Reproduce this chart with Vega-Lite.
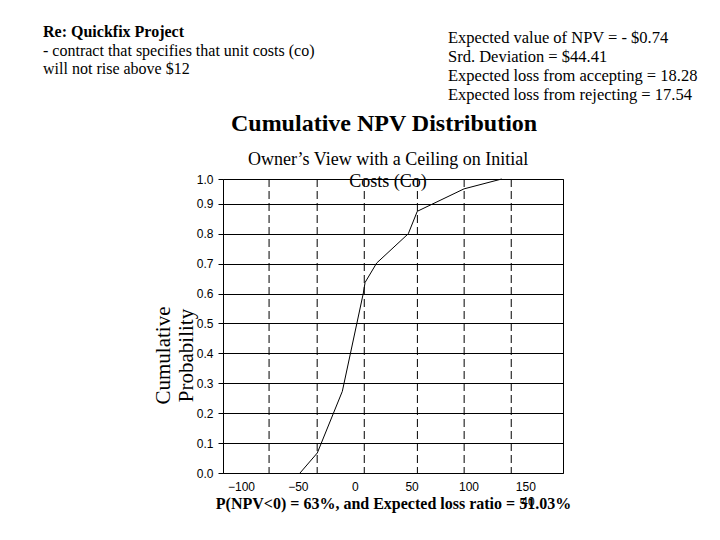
{
  "$schema": "https://vega.github.io/schema/vega-lite/v6.json",
  "width": 340,
  "height": 294,
  "autosize": {"type": "none"},
  "padding": {"left": 223, "top": 179, "right": 157, "bottom": 67},
  "background": "white",
  "config": {"view": {"stroke": "black", "strokeWidth": 1}, "font": "Liberation Serif"},
  "layer": [
    {
      "data": {"values": [{"npv": -75.3}, {"npv": -33.0}, {"npv": 8.4}, {"npv": 55.1}, {"npv": 96.2}, {"npv": 137.6}]},
      "mark": {"type": "rule", "strokeDash": [8, 4], "color": "black", "strokeWidth": 1},
      "encoding": {
        "x": {"field": "npv", "type": "quantitative", "scale": {"domain": [-115.8, 183.1], "nice": false, "zero": false}}
      }
    },
    {
      "data": {"values": [
        {"npv": -48.1, "prob": 0.0},
        {"npv": -32.9, "prob": 0.067},
        {"npv": -10.9, "prob": 0.273},
        {"npv": 7.6, "prob": 0.602},
        {"npv": 9.1, "prob": 0.637},
        {"npv": 19.3, "prob": 0.702},
        {"npv": 47.1, "prob": 0.8},
        {"npv": 55.0, "prob": 0.875},
        {"npv": 96.1, "prob": 0.95},
        {"npv": 129.2, "prob": 0.983}
      ]},
      "mark": {"type": "line", "color": "black", "strokeWidth": 1},
      "encoding": {
        "x": {
          "field": "npv", "type": "quantitative",
          "scale": {"domain": [-115.8, 183.1], "nice": false, "zero": false},
          "axis": {
            "values": [-100, -50, 0, 50, 100, 150], "tickCount": 10,
            "ticks": false, "grid": false, "domain": false, "labelOverlap": false,
            "labelPadding": 8, "labelFont": "Liberation Sans", "labelFontSize": 12, "labelColor": "black",
            "title": "P(NPV<0) = 63%, and Expected loss ratio = 51.03%",
            "titleFont": "Liberation Serif", "titleFontSize": 16, "titleFontWeight": "bold", "titleColor": "black",
            "titlePadding": 3
          }
        },
        "y": {
          "field": "prob", "type": "quantitative",
          "scale": {"domain": [0, 0.983], "nice": false},
          "axis": {
            "values": [0, 0.1, 0.2, 0.3, 0.4, 0.5, 0.6, 0.7, 0.8, 0.9, 0.983], "tickCount": 12,
            "labelExpr": "datum.value > 0.95 ? '1.0' : format(datum.value, '.1f')",
            "labelOverlap": false,
            "grid": true, "gridColor": "black", "gridWidth": 1, "gridOpacity": 1,
            "domain": false, "tickSize": 5, "tickColor": "black", "labelPadding": 5,
            "labelFont": "Liberation Sans", "labelFontSize": 12, "labelColor": "black",
            "title": ["Cumulative", "Probability"],
            "titleFont": "Liberation Serif", "titleFontSize": 21, "titleFontWeight": "normal", "titleColor": "black",
            "titlePadding": 0, "titleY": 176
          }
        }
      }
    },
    {
      "data": {"values": [{"text": "Cumulative NPV Distribution"}]},
      "mark": {"type": "text", "align": "center", "baseline": "alphabetic", "font": "Liberation Serif", "fontSize": 24, "fontWeight": "bold", "color": "black"},
      "encoding": {
        "x": {"datum": 25.8, "type": "quantitative", "scale": {"domain": [-115.8, 183.1], "nice": false, "zero": false}},
        "y": {"datum": 1.1425, "type": "quantitative", "scale": {"domain": [0, 0.983], "nice": false}},
        "text": {"field": "text"}
      }
    },
    {
      "data": {"values": [{"id": 1}]},
      "mark": {"type": "text", "align": "center", "baseline": "alphabetic", "font": "Liberation Serif", "fontSize": 18, "lineHeight": 22.3, "color": "black"},
      "encoding": {
        "x": {"datum": 29.3, "type": "quantitative", "scale": {"domain": [-115.8, 183.1], "nice": false, "zero": false}},
        "y": {"datum": 1.0311, "type": "quantitative", "scale": {"domain": [0, 0.983], "nice": false}},
        "text": {"value": ["Owner’s View with a Ceiling on Initial", "Costs (Co)"]}
      }
    },
    {
      "data": {"values": [{"text": "Re: Quickfix Project"}]},
      "mark": {"type": "text", "align": "left", "baseline": "alphabetic", "font": "Liberation Serif", "fontSize": 16, "fontWeight": "bold", "color": "black"},
      "encoding": {
        "x": {"datum": -274, "type": "quantitative", "scale": {"domain": [-115.8, 183.1], "nice": false, "zero": false}},
        "y": {"datum": 1.458, "type": "quantitative", "scale": {"domain": [0, 0.983], "nice": false}},
        "text": {"field": "text"}
      }
    },
    {
      "data": {"values": [{"id": 1}]},
      "mark": {"type": "text", "align": "left", "baseline": "alphabetic", "font": "Liberation Serif", "fontSize": 16, "lineHeight": 18.3, "color": "black"},
      "encoding": {
        "x": {"datum": -274, "type": "quantitative", "scale": {"domain": [-115.8, 183.1], "nice": false, "zero": false}},
        "y": {"datum": 1.3957, "type": "quantitative", "scale": {"domain": [0, 0.983], "nice": false}},
        "text": {"value": ["- contract that specifies that unit costs (co)", "will not rise above $12"]}
      }
    },
    {
      "data": {"values": [{"id": 1}]},
      "mark": {"type": "text", "align": "left", "baseline": "alphabetic", "font": "Liberation Serif", "fontSize": 16.5, "lineHeight": 18.9, "color": "black"},
      "encoding": {
        "x": {"datum": 82, "type": "quantitative", "scale": {"domain": [-115.8, 183.1], "nice": false, "zero": false}},
        "y": {"datum": 1.438, "type": "quantitative", "scale": {"domain": [0, 0.983], "nice": false}},
        "text": {"value": ["Expected value of NPV = - $0.74", "Srd. Deviation = $44.41", "Expected loss from accepting = 18.28", "Expected loss from rejecting = 17.54"]}
      }
    },
    {
      "data": {"values": [{"text": "40"}]},
      "mark": {"type": "text", "align": "center", "baseline": "middle", "font": "Liberation Sans", "fontSize": 12, "color": "black"},
      "encoding": {
        "x": {"datum": 152.3, "type": "quantitative", "scale": {"domain": [-115.8, 183.1], "nice": false, "zero": false}},
        "y": {"datum": -0.096, "type": "quantitative", "scale": {"domain": [0, 0.983], "nice": false}},
        "text": {"field": "text"}
      }
    }
  ]
}
